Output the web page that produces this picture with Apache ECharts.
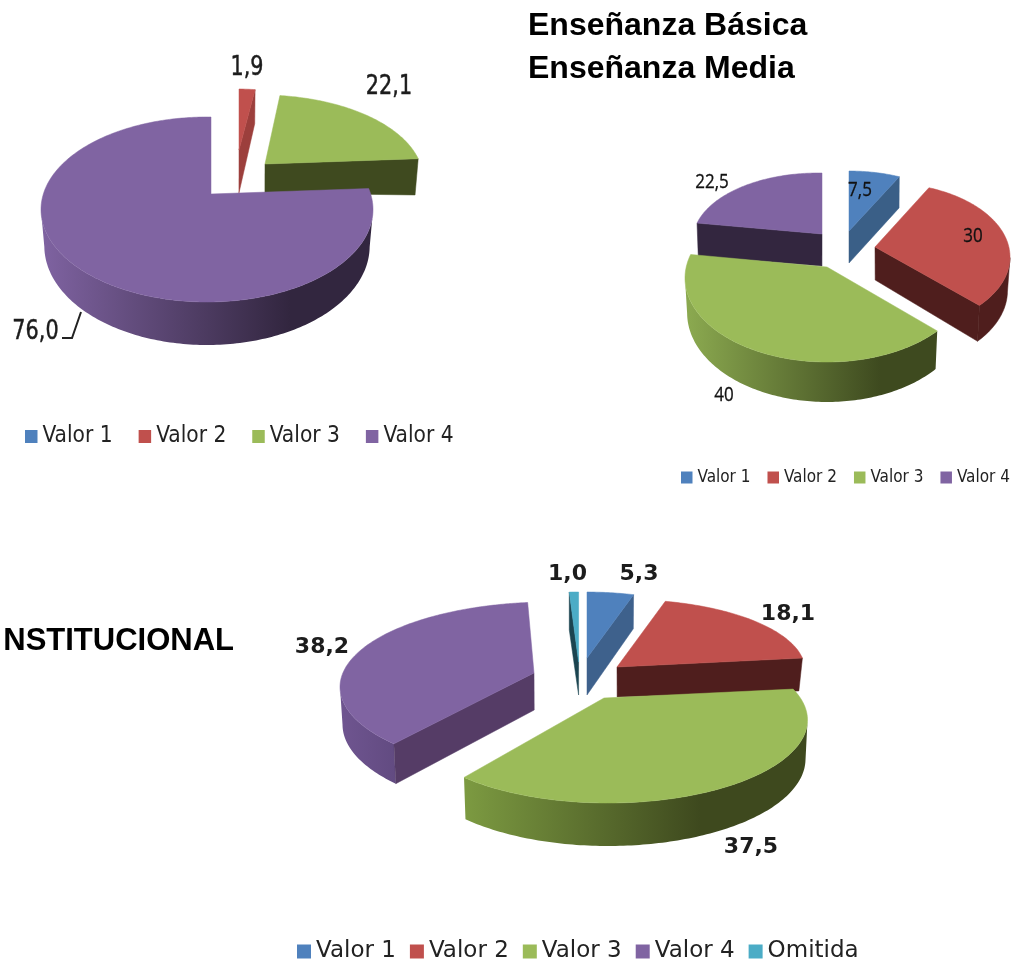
<!DOCTYPE html>
<html><head><meta charset="utf-8">
<style>html,body{margin:0;padding:0;background:#fff}#c{width:1013px;height:964px}</style>
<script src="https://cdn.jsdelivr.net/npm/echarts@6/dist/echarts.min.js"></script>
</head><body><div id="c"></div>
<script>
const categories1 = ['Valor 1','Valor 2','Valor 3','Valor 4'];
const categories3 = ['Valor 1','Valor 2','Valor 3','Valor 4','Omitida'];
const values1 = [0, 1.9, 22.1, 76.0];
const values2 = [7.5, 30, 40, 22.5];
const values3 = [5.3, 18.1, 37.5, 38.2, 1.0];
const labels1 = ['', '1,9', '22,1', '76,0'];
const labels2 = ['7,5', '30', '40', '22,5'];
const labels3 = ['5,3', '18,1', '37,5', '38,2', '1,0'];
const titles = ['Enseñanza Básica', 'Enseñanza Media', 'NSTITUCIONAL'];

const BLUE='#4F81BD', RED='#C0504D', GREEN='#9BBB59', PURPLE='#8064A2', TEAL='#4BACC6';
const colors = {'Valor 1':BLUE,'Valor 2':RED,'Valor 3':GREEN,'Valor 4':PURPLE,'Omitida':TEAL};

// Projection of each exploded slice: apex, rim ellipse, extrusion, label anchor, wall shades.
const FONT1 = {font:'27px "DejaVu Sans",sans-serif',fill:'#1c1c1c',sx:.77,sw:.5};
const FONT2 = {font:'20px "Open Sans",sans-serif',fill:'#111',sx:.85,sw:.3};
const FONT3 = {font:'bold 22px "DejaVu Sans",sans-serif',fill:'#1c1c1c',sx:1,sw:0};
const charts = [
 {cats:categories1, values:values1, labels:labels1, order:[0,1,2,3], font:FONT1, slices:[
  null,
  {ax:239,ay:150,cx:237,cy:165,rx:140,ry:76,k:.45,dA:43,dB:34,dF:40,s:.02,lx:247,ly:68,wall:'#9C3F3C'},
  {ax:265,ay:164,cx:261,cy:179,rx:162,ry:84,k:.55,dA:29,dB:34,dF:40,s:.02,lx:389,ly:87,wall:'#3F4A1F'},
  {ax:211,ay:194,cx:207,cy:209.5,rx:166,ry:92.5,k:.55,dA:30,dB:30,dF:43,s:.02,lx:35.5,ly:332,wall:'#33263F',grad:[45,290,'#7E62A0','#32263F'],
   leader:[[81,312],[72,338],[62,338]]}
 ]},
 {cats:categories1, values:values2, labels:labels2, order:[3,0,1,2], font:FONT2, slices:[
  {ax:849,ay:231,cx:849,cy:241,rx:127,ry:70,k:.55,dA:32,dB:31,dF:36,s:.005,lx:860,ly:190,wall:'#3A5F87'},
  {ax:875,ay:247,cx:885,cy:257,rx:125,ry:74,k:.56,dA:33,dB:30,dF:37,s:.02,lx:973,ly:236,wall:'#4F1E1D'},
  {ax:827,ay:267,cx:827,cy:278,rx:142,ry:84,k:.58,dA:30,dB:30,dF:40,s:.015,lx:724,ly:395,wall:'#3F4A1F',grad:[690,880,'#8AA84F','#3E4A1F']},
  {ax:822,ay:234,cx:818,cy:240,rx:125,ry:67,k:.55,dA:32,dB:31,dF:36,s:.01,lx:712,ly:182,wall:'#33263F'}
 ]},
 {cats:categories3, values:values3, labels:labels3, order:[4,0,1,3,2], font:FONT3, slices:[
  {ax:587,ay:658,cx:585,cy:672,rx:190,ry:80,k:.47,dA:37,dB:34,dF:38,s:.005,lx:639,ly:574,wall:'#3E618C'},
  {ax:617,ay:667,cx:625,cy:670,rx:180,ry:70.5,k:.47,dA:30,dB:32,dF:34,s:.02,lx:788,ly:614,wall:'#4F1E1D'},
  {ax:604,ay:698,cx:608,cy:720,rx:199.5,ry:83,k:.46,dA:30,dB:35,dF:43,s:.01,lx:751,ly:847,wall:'#3F4A1F',grad:[465,700,'#7C9A41','#3E491E']},
  {ax:534,ay:673,cx:550,cy:687,rx:210,ry:85,k:.41,ku:.7,dA:37,dB:34,dF:41,s:.012,lx:322,ly:647,wall:'#553C66',grad:[340,400,'#6F5590','#614A80']},
  {ax:578.6,ay:662,cx:578,cy:672,rx:190,ry:80,k:.47,dA:33,dB:38,dF:38,s:.005,lx:567.5,ly:574,wall:'#1B4450'}
 ]}
];

function rimPoint(g, deg){
  const t = deg*Math.PI/180, cos = Math.cos(t), dx = Math.sin(t), dy = -cos*(cos>0 && g.ku ? g.ku : g.k);
  const ox = (g.ax-g.cx)/g.rx, oy = (g.ay-g.cy)/g.ry, ux = dx/g.rx, uy = dy/g.ry;
  const a = ux*ux+uy*uy, b = 2*(ox*ux+oy*uy), c = ox*ox+oy*oy-1;
  const u = (-b+Math.sqrt(b*b-4*a*c))/(2*a);
  return [g.ax+u*dx, g.ay+u*dy];
}
function drop(g, p, d){
  const depth = d!==undefined ? d : g.dB+(g.dF-g.dB)*(p[1]-(g.cy-g.ry))/(2*g.ry);
  return [g.cx+(p[0]-g.cx)*(1-g.s), p[1]+depth];
}
function poly(points, fill){
  return {type:'polygon',shape:{points},style:{fill,stroke:typeof fill==='string'?fill:null,lineWidth:typeof fill==='string'?.5:0}};
}
function makeRender(chart, idx, start, end, color){
  const g = chart.slices[idx];
  return function(params, api){
    const value = api.value(0);
    if(!g || !value) return {type:'group',children:[]};
    const rim = [];
    const N = Math.max(8, Math.ceil((end-start)));
    for(let i=0;i<=N;i++) rim.push(rimPoint(g, start+(end-start)*i/N));
    const apex = [g.ax,g.ay], apexB = drop(g,apex,g.dA);
    const kids = [];
    const near = rim.filter(p=>p[1]>=g.cy);
    if(near.length>1){
      const fill = g.grad ? new echarts.graphic.LinearGradient(g.grad[0],0,g.grad[1],0,
        [{offset:0,color:g.grad[2]},{offset:1,color:g.grad[3]}],true) : g.wall;
      kids.push(poly(near.concat(near.slice().reverse().map(p=>drop(g,p))),fill));
    }
    const rad = d=>d*Math.PI/180;
    if(Math.sin(rad(end))>1e-6){
      const p = rim[rim.length-1];
      kids.push(poly([apex,p,drop(g,p),apexB],g.wall));
    }
    if(Math.sin(rad(start))<-1e-6){
      const p = rim[0];
      kids.push(poly([apex,p,drop(g,p),apexB],g.wall));
    }
    kids.push(poly([apex].concat(rim),color));
    if(g.leader) kids.push({type:'polyline',shape:{points:g.leader},style:{stroke:'#222',lineWidth:2,fill:null}});
    const f = chart.font;
    kids.push({type:'text',z2:50,x:g.lx,y:g.ly,scaleX:f.sx,scaleY:1,
      style:{text:chart.labels[idx],x:0,y:0,align:'center',verticalAlign:'middle',font:f.font,fill:f.fill,stroke:f.sw?f.fill:null,lineWidth:f.sw}});
    return {type:'group',children:kids};
  };
}
const series = [];
charts.forEach(chart=>{
  const total = chart.values.reduce((a,b)=>a+b,0);
  let acc = 0;
  const spans = chart.values.map(v=>{const s=acc/total*360; acc+=v; return [s,acc/total*360];});
  chart.order.forEach(idx=>{
    const name = chart.cats[idx];
    series.push({type:'custom',name,coordinateSystem:'none',silent:true,animation:false,
      itemStyle:{color:colors[name]},data:[[chart.values[idx]]],
      renderItem:makeRender(chart,idx,spans[idx][0],spans[idx][1],colors[name])});
  });
});
const titleStyle = {fontFamily:'Liberation Sans',fontWeight:'bold',fontSize:32,color:'#000'};
const option = {
  backgroundColor:'#fff',animation:false,
  title:[
    {text:titles[0],left:528,top:10,padding:0,textStyle:titleStyle},
    {text:titles[1],left:528,top:53,padding:0,textStyle:titleStyle},
    {text:titles[2],right:779,top:626,padding:0,textStyle:{fontFamily:'Liberation Sans',fontWeight:'bold',fontSize:31,color:'#000'}}
  ],
  legend:[
    {data:categories1,left:25,top:425,padding:0,width:500,icon:'rect',itemWidth:12.5,itemHeight:13,itemGap:26,selectedMode:false,
     textStyle:{fontFamily:'DejaVu Sans Condensed',fontSize:22.5,color:'#222'}},
    {data:categories1,left:681,top:469,padding:0,width:332,icon:'rect',itemWidth:11.5,itemHeight:12,itemGap:17,selectedMode:false,
     textStyle:{fontFamily:'DejaVu Sans Condensed',fontSize:17,color:'#222'}},
    {data:categories3,left:297,top:940,padding:0,width:600,icon:'rect',itemWidth:14,itemHeight:14,itemGap:14,selectedMode:false,
     textStyle:{fontFamily:'DejaVu Sans',fontSize:23,color:'#222'}}
  ],
  series
};
echarts.init(document.getElementById('c'),null,{renderer:'canvas'}).setOption(option);
</script></body></html>
